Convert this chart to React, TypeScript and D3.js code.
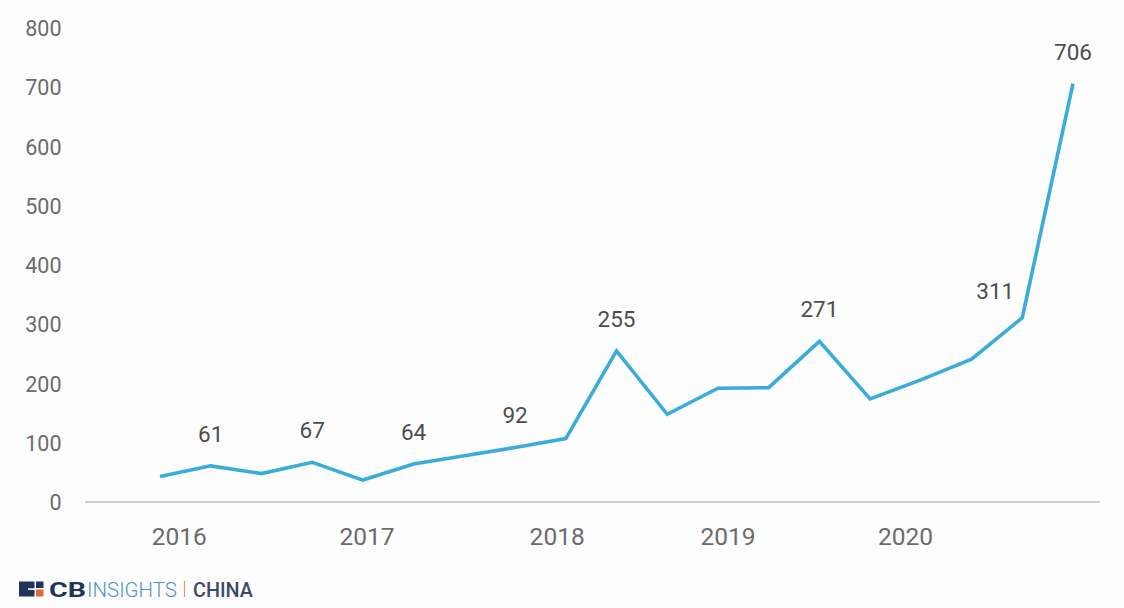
import React from "react";
import * as d3 from "d3";

const quarters = [
  "2016Q1","2016Q2","2016Q3","2016Q4",
  "2017Q1","2017Q2","2017Q3","2017Q4",
  "2018Q1","2018Q2","2018Q3","2018Q4",
  "2019Q1","2019Q2","2019Q3","2019Q4",
  "2020Q1","2020Q2","2020Q3",
];
const values = [43, 61, 48, 67, 37, 64, 78, 92, 107, 255, 148, 192, 193, 271, 174, 206, 241, 311, 706];
const labeledIdx = [1, 3, 5, 7, 9, 13, 17, 18];
const yTicks = [0, 100, 200, 300, 400, 500, 600, 700, 800];
const yearLabels = ["2016", "2017", "2018", "2019", "2020"];
const yearPos = [0.38, 4.08, 7.83, 11.2, 14.7];

const W = 1124;
const H = 608;

export default function App() {
  const x = d3.scaleLinear().domain([0, quarters.length - 1]).range([160, 1073]);
  const y = d3.scaleLinear().domain([0, 800]).range([502, 28]);
  const line = d3
    .line<number>()
    .x((_, i) => x(i))
    .y((d) => y(d));
  const font = "Roboto, 'Noto Sans', sans-serif";
  return (
    <svg
      width={W}
      height={H}
      style={{ position: "absolute", left: 0, top: 0, background: "#fdfdfe" }}
      fontFamily={font}
    >
      <rect x={0} y={0} width={W} height={H} fill="#fdfdfe" />
      {yTicks.map((t) => (
        <text key={t} x={61.5} y={y(t) + 8} textAnchor="end" fontSize={21.5} fill="#6b6b6b">
          {t}
        </text>
      ))}
      <line x1={85} x2={1100} y1={y(0)} y2={y(0)} stroke="#a0a0a0" strokeWidth={1.2} />
      {yearLabels.map((lab, i) => (
        <text key={lab} x={x(yearPos[i])} y={544.5} textAnchor="middle" fontSize={24.5} fill="#6b6b6b">
          {lab}
        </text>
      ))}
      <path d={line(values) || ""} fill="none" stroke="#3aacdc" strokeWidth={3.6} strokeLinejoin="miter" />
      {labeledIdx.map((i) => {
        const special = i === 17;
        return (
          <text
            key={i}
            x={x(i) + (special ? -27 : 0)}
            y={y(values[i]) - (special ? 19 : 24)}
            textAnchor="middle"
            fontSize={22.5}
            fill="#4d4d4d"
          >
            {values[i]}
          </text>
        );
      })}
      <g fontFamily="Roboto, sans-serif" fontSize={21}>
        <rect x={19} y={581.5} width={15.5} height={15} fill="#1f3558" />
        <rect x={36} y={581.5} width={7.5} height={6.5} fill="#1f3558" />
        <rect x={36} y={589.5} width={7.5} height={7} fill="#e0693c" />
        <rect x={28} y={588.3} width={7} height={1.6} fill="#fdfdfe" />
        <text x={49} y={596.5} fill="#1f3558" fontWeight={700} textLength={37} lengthAdjust="spacingAndGlyphs">CB</text>
        <text x={87} y={596.5} fill="#4f95bd" fontWeight={300} textLength={90} lengthAdjust="spacingAndGlyphs">INSIGHTS</text>
        <line x1={184.5} x2={184.5} y1={581} y2={597} stroke="#e3957a" strokeWidth={1.2} />
        <text x={193} y={596.5} fill="#3b4b66" fontWeight={500} textLength={60} lengthAdjust="spacingAndGlyphs">CHINA</text>
      </g>
    </svg>
  );
}
